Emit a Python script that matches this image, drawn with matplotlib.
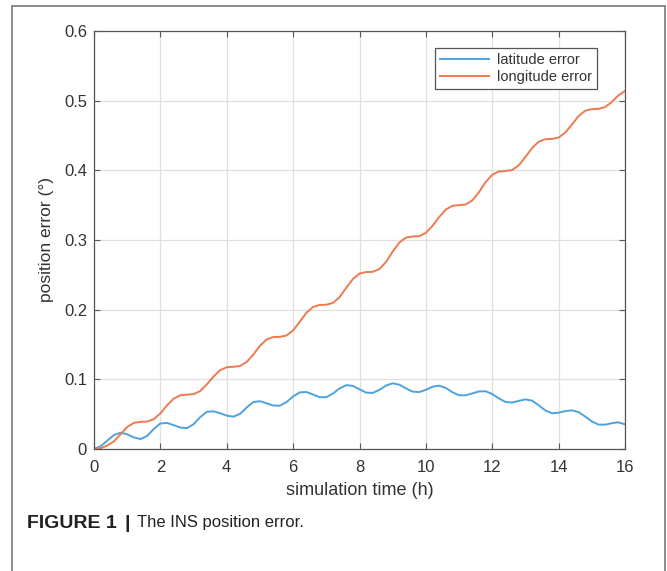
import numpy as np
import matplotlib
matplotlib.use('Agg')
import matplotlib.pyplot as plt
from matplotlib.patches import Rectangle

plt.rcParams['font.family'] = ['Liberation Sans', 'DejaVu Sans']

# Simulation time (h), sampled every 0.2 h
time_h = [round(0.2 * i, 1) for i in range(81)]

# Values (degrees)
latitude_error = [
    0.0, 0.004, 0.012, 0.020, 0.0234, 0.0211, 0.0166, 0.0143, 0.0187, 0.0287,
    0.0366, 0.0374, 0.0343, 0.0308, 0.0299, 0.0356, 0.0457, 0.0534, 0.0541, 0.0513,
    0.0479, 0.0464, 0.0504, 0.0596, 0.0674, 0.0686, 0.0657, 0.0624, 0.0622, 0.0674,
    0.0754, 0.0813, 0.0818, 0.0782, 0.0744, 0.0743, 0.0796, 0.0870, 0.0916, 0.0906,
    0.0857, 0.0810, 0.0805, 0.0849, 0.0911, 0.0943, 0.0923, 0.0870, 0.0824, 0.0817,
    0.0850, 0.0893, 0.0909, 0.0877, 0.0815, 0.0771, 0.0771, 0.0798, 0.0826, 0.0829,
    0.0789, 0.0726, 0.0675, 0.0667, 0.0691, 0.0712, 0.0694, 0.0628, 0.0553, 0.0513,
    0.0521, 0.0544, 0.0555, 0.0529, 0.0466, 0.0396, 0.0351, 0.0349, 0.0370, 0.0383,
    0.0354,
]

longitude_error = [
    0.0, 0.001, 0.005, 0.011, 0.021, 0.0316, 0.0375, 0.0390, 0.0393, 0.0428,
    0.0511, 0.0626, 0.0722, 0.0771, 0.0780, 0.0787, 0.0832, 0.0928, 0.1039, 0.1131,
    0.1174, 0.1180, 0.1191, 0.1249, 0.1356, 0.1481, 0.1571, 0.1607, 0.1610, 0.1629,
    0.1702, 0.1826, 0.1955, 0.2038, 0.2068, 0.2071, 0.2097, 0.2180, 0.2314, 0.2439,
    0.2518, 0.2540, 0.2543, 0.2583, 0.2685, 0.2833, 0.2963, 0.3035, 0.3050, 0.3055,
    0.3102, 0.3203, 0.3329, 0.3437, 0.3491, 0.3500, 0.3510, 0.3569, 0.3686, 0.3831,
    0.3936, 0.3985, 0.3990, 0.4005, 0.4073, 0.4192, 0.4319, 0.4411, 0.4447, 0.4451,
    0.4470, 0.4542, 0.4656, 0.4779, 0.4855, 0.4879, 0.4882, 0.4908, 0.4980, 0.5075,
    0.5140,
]

x_ticks = [0, 2, 4, 6, 8, 10, 12, 14, 16]
y_ticks = [0, 0.1, 0.2, 0.3, 0.4, 0.5, 0.6]
y_tick_labels = ['0', '0.1', '0.2', '0.3', '0.4', '0.5', '0.6']

fig = plt.figure(figsize=(6.67, 5.71), dpi=100)
ax = fig.add_axes([94 / 667, 1 - 449 / 571, 531 / 667, 418 / 571])

ax.plot(time_h, latitude_error, color='#4da3de', lw=1.4,
        solid_joinstyle='round', label='latitude error')
ax.plot(time_h, longitude_error, color='#ee7a50', lw=1.4,
        solid_joinstyle='round', label='longitude error')

ax.set_xlim(0, 16)
ax.set_ylim(0, 0.6)
ax.set_xticks(x_ticks)
ax.set_yticks(y_ticks)
ax.set_yticklabels(y_tick_labels)
ax.grid(True, color='#e0e0e0', lw=0.9)
ax.set_axisbelow(True)
ax.tick_params(direction='in', length=4, width=0.8, colors='#555555',
               labelcolor='#333333', labelsize=12, top=True, right=True)
ax.tick_params(axis='x', pad=8)
ax.tick_params(axis='y', pad=5)
for sp in ax.spines.values():
    sp.set_color('#555555')
    sp.set_linewidth(0.9)

ax.set_xlabel('simulation time (h)', fontsize=13, color='#333333', labelpad=5)
ax.set_ylabel('position error (°)', fontsize=12.5, color='#333333', labelpad=7)

leg = ax.legend(loc='upper right', bbox_to_anchor=(0.947, 0.959), fontsize=10.5,
                handlelength=3.4, fancybox=False, framealpha=1, borderpad=0.35,
                labelspacing=0.2, handletextpad=0.5, borderaxespad=0)
leg.get_frame().set_edgecolor('#555555')
leg.get_frame().set_linewidth(0.9)
for t in leg.get_texts():
    t.set_color('#333333')

# caption and outer frame
cap_y = 1 - 523 / 571
fig.text(27 / 667, cap_y, 'FIGURE 1', fontsize=14, fontweight='bold',
         va='center', color='#222222')
fig.text(124 / 667, cap_y, '|', fontsize=14, fontweight='bold',
         va='center', color='#222222')
fig.text(137 / 667, cap_y, 'The INS position error.', fontsize=12,
         va='center', color='#222222')
fig.patches.append(Rectangle((12 / 667, -0.02), 653 / 667, 1.02 - 6 / 571,
                             transform=fig.transFigure, fill=False,
                             edgecolor='#777777', lw=1.2))

fig.savefig('out.png', dpi=100)
